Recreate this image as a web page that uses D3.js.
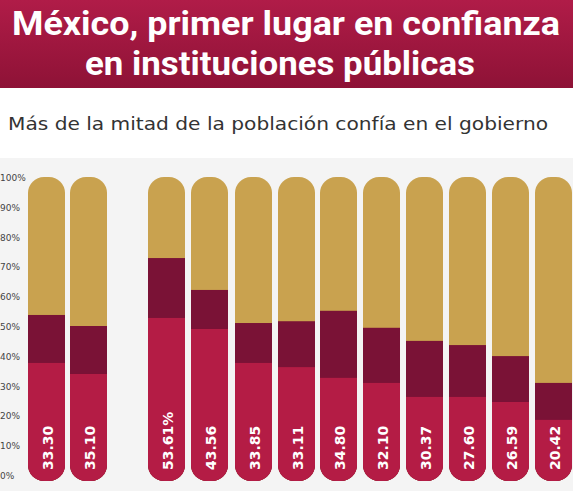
<!DOCTYPE html>
<html><head><meta charset="utf-8">
<script src="https://cdn.jsdelivr.net/npm/d3@7"></script>
<style>body{margin:0;background:#fff}svg{display:block}</style>
</head><body><svg width="573" height="491"></svg>
<script>
// data
const labels = ['33.30', '35.10', '53.61%', '43.56', '33.85', '33.11', '34.80', '32.10', '30.37', '27.60', '26.59', '20.42']
const confia = [37.6, 33.9, 52.7, 49.0, 37.6, 36.2, 32.6, 30.9, 26.2, 26.2, 24.5, 18.5]
const algo = [16.1, 16.1, 20.1, 13.1, 13.4, 15.4, 22.5, 18.5, 18.8, 17.4, 15.4, 12.4]
const ticks = [0, 10, 20, 30, 40, 50, 60, 70, 80, 90, 100]

const svg = d3.select('svg')
const defs = svg.append('defs')
const g = defs.append('linearGradient').attr('id', 'ban').attr('x1', 0).attr('x2', 0).attr('y1', 0).attr('y2', 1)
g.append('stop').attr('offset', 0).attr('stop-color', '#b01c48')
g.append('stop').attr('offset', 1).attr('stop-color', '#8e1236')

svg.append('rect').attr('width', 573).attr('height', 88).attr('fill', 'url(#ban)')
svg.append('text').attr('x', 286).attr('y', 35).attr('text-anchor', 'middle')
  .attr('font-family', 'Roboto').attr('font-weight', 'bold').attr('font-size', 33).attr('fill', '#fff')
  .attr('textLength', 548).attr('lengthAdjust', 'spacingAndGlyphs')
  .text('México, primer lugar en confianza')
svg.append('text').attr('x', 280).attr('y', 75).attr('text-anchor', 'middle')
  .attr('font-family', 'Roboto').attr('font-weight', 'bold').attr('font-size', 33).attr('fill', '#fff')
  .attr('textLength', 390).attr('lengthAdjust', 'spacingAndGlyphs')
  .text('en instituciones públicas')
svg.append('text').attr('x', 8).attr('y', 130)
  .attr('font-family', 'DejaVu Sans').attr('font-size', 18).attr('fill', '#333')
  .attr('textLength', 540).attr('lengthAdjust', 'spacingAndGlyphs')
  .text('Más de la mitad de la población confía en el gobierno')

svg.append('rect').attr('y', 158).attr('width', 573).attr('height', 333).attr('fill', '#f4f4f4')

const y = d3.scaleLinear().domain([0, 100]).range([475, 177])
const xs = [28, 70, 148, 191, 235, 278, 320, 363, 406, 449, 492, 535]
const bw = 37

svg.append('g').selectAll('text').data(ticks).join('text')
  .attr('x', 0).attr('y', d => y(d) + 4)
  .attr('font-family', 'DejaVu Sans').attr('font-size', 9).attr('fill', '#444')
  .text(d => d + '%')

const data = labels.map((l, i) => ({ l, c: confia[i], a: algo[i], x: xs[i] }))
const bars = svg.append('g').selectAll('g').data(data).join('g')
data.forEach((d, i) => {
  defs.append('clipPath').attr('id', 'c' + i).append('rect')
    .attr('x', d.x).attr('y', y(100)).attr('width', bw).attr('height', y(0) - y(100) + 6)
    .attr('rx', 16)
})
bars.attr('clip-path', (d, i) => `url(#c${i})`)
bars.append('rect').attr('x', d => d.x).attr('width', bw).attr('y', y(100)).attr('height', y(0) - y(100) + 6).attr('fill', '#c9a24f')
bars.append('rect').attr('x', d => d.x).attr('width', bw).attr('y', d => y(d.c + d.a)).attr('height', d => y(0) - y(d.c + d.a) + 6).attr('fill', '#7a1236')
bars.append('rect').attr('x', d => d.x).attr('width', bw).attr('y', d => y(d.c)).attr('height', d => y(0) - y(d.c) + 6).attr('fill', '#b41c45')
bars.append('text')
  .attr('transform', d => `translate(${d.x + bw / 2 + 6},470) rotate(-90)`)
  .attr('font-family', 'DejaVu Sans').attr('font-weight', 'bold').attr('font-size', 14).attr('fill', '#fff')
  .text(d => d.l)
</script></body></html>
